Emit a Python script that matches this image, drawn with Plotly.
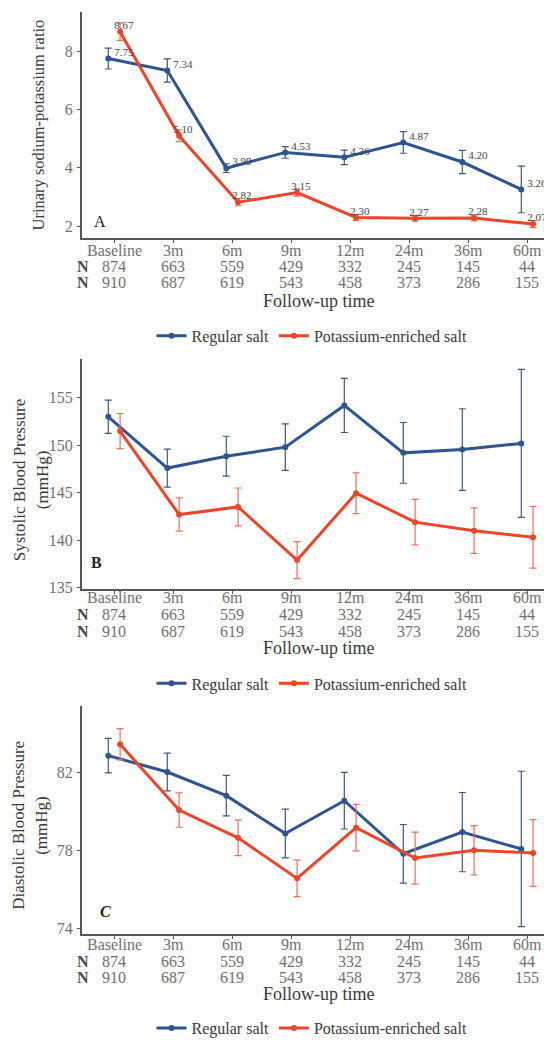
import plotly.graph_objects as go

# ---------------- data ----------------
timepoints = ["Baseline", "3m", "6m", "9m", "12m", "24m", "36m", "60m"]
n_regular = [874, 663, 559, 429, 332, 245, 145, 44]
n_potassium = [910, 687, 619, 543, 458, 373, 286, 155]
series_names = ["Regular salt", "Potassium-enriched salt"]

# Panel A: urinary sodium-potassium ratio
ratio_regular = [7.75, 7.34, 3.99, 4.53, 4.36, 4.87, 4.20, 3.26]
ratio_regular_err = [0.36, 0.40, 0.15, 0.20, 0.25, 0.37, 0.40, 0.80]
ratio_potassium = [8.67, 5.10, 2.82, 3.15, 2.30, 2.27, 2.28, 2.07]
ratio_potassium_err = [0.30, 0.20, 0.12, 0.12, 0.10, 0.10, 0.10, 0.12]
ratio_regular_lbl = ["7.75", "7.34", "3.99", "4.53", "4.36", "4.87", "4.20", "3.26"]
ratio_potassium_lbl = ["8.67", "5.10", "2.82", "3.15", "2.30", "2.27", "2.28", "2.07"]

# Panel B: systolic blood pressure
sbp_regular = [153.0, 147.6, 148.85, 149.8, 154.2, 149.2, 149.55, 150.2]
sbp_regular_err = [1.75, 2.0, 2.1, 2.45, 2.85, 3.2, 4.3, 7.8]
sbp_potassium = [151.5, 142.7, 143.5, 137.9, 144.95, 141.9, 141.0, 140.3]
sbp_potassium_err = [1.85, 1.75, 2.0, 1.95, 2.15, 2.4, 2.4, 3.25]

# Panel C: diastolic blood pressure
dbp_regular = [82.87, 82.03, 80.82, 78.88, 80.56, 77.84, 78.95, 78.09]
dbp_regular_err = [0.88, 0.97, 1.04, 1.25, 1.45, 1.5, 2.03, 3.98]
dbp_potassium = [83.45, 80.08, 78.66, 76.58, 79.18, 77.62, 78.02, 77.88]
dbp_potassium_err = [0.80, 0.88, 0.91, 0.94, 1.19, 1.33, 1.26, 1.71]

# ---------------- style ----------------
FONT = "Liberation Serif, Times New Roman, serif"
BLUE = "#2f5590"
BLUE_ERR = "#3c587e"
RED = "#e8472c"
RED_ERR = "#e8705c"
TICK_COL = "#707070"
AXIS_COL = "#555555"
TITLE_COL = "#3a3a3a"
W, H = 544, 1045
DODGE = 0.1

x_idx = list(range(len(timepoints)))
x_reg = [i - DODGE for i in x_idx]
x_pot = [i + DODGE for i in x_idx]


def py(px):
    """pixel from top -> paper y"""
    return 1 - px / H


panels = [
    dict(key="", yr=ratio_regular, ye=ratio_regular_err, pr=ratio_potassium, pe=ratio_potassium_err,
         top=11.7, bot=240.7, yrange=[1.58, 9.36], tickvals=[2, 4, 6, 8],
         title=["Urinary sodium-potassium ratio"], letter="A", letter_pos=(-0.24, 2.17),
         labels=True, legend="legend",
         rows=(253, 269, 285.5, 303.5, 339)),
    dict(key="2", yr=sbp_regular, ye=sbp_regular_err, pr=sbp_potassium, pe=sbp_potassium_err,
         top=362.7, bot=595, yrange=[134.82, 159.07], tickvals=[135, 140, 145, 150, 155],
         title=["Systolic Blood Pressure", "(mmHg)"], letter="<b>B</b>", letter_pos=(-0.3, 137.6),
         labels=False, legend="legend2",
         rows=(603.5, 620.5, 637.5, 654, 690)),
    dict(key="3", yr=dbp_regular, ye=dbp_regular_err, pr=dbp_potassium, pe=dbp_potassium_err,
         top=712.7, bot=943, yrange=[73.73, 85.42], tickvals=[74, 78, 82],
         title=["Diastolic Blood Pressure", "(mmHg)"], letter="<b><i>C</i></b>", letter_pos=(-0.14, 74.9),
         labels=False, legend="legend3",
         rows=(953.5, 970.5, 987, 1004, 1038)),
]

fig = go.Figure()
annotations = []
layout_extra = {}

x_domain = [81.7 / W, 1.0]
x_range = [-0.551, 7.285]
title_x = 319 / W
legend_x = 312 / W

for p in panels:
    k = p["key"]
    xa = "x" + k
    ya = "y" + k
    fig.add_trace(go.Scatter(
        x=x_reg, y=p["yr"], xaxis=xa, yaxis=ya, name=series_names[0], mode="lines+markers",
        line=dict(color=BLUE, width=3), marker=dict(color=BLUE, size=6),
        error_y=dict(type="data", array=p["ye"], color=BLUE_ERR, thickness=1.2, width=3.5),
        legend=p["legend"],
    ))
    fig.add_trace(go.Scatter(
        x=x_pot, y=p["pr"], xaxis=xa, yaxis=ya, name=series_names[1], mode="lines+markers",
        line=dict(color=RED, width=3), marker=dict(color=RED, size=6),
        error_y=dict(type="data", array=p["pe"], color=RED_ERR, thickness=1.2, width=3.5),
        legend=p["legend"],
    ))
    if p["labels"]:
        for vals, lbls in ((p["yr"], ratio_regular_lbl), (p["pr"], ratio_potassium_lbl)):
            fig.add_trace(go.Scatter(
                x=x_idx, y=vals, xaxis=xa, yaxis=ya, mode="text", text=lbls,
                textposition="top right", showlegend=False, hoverinfo="skip",
                textfont=dict(family=FONT, size=11, color="#444444"), cliponaxis=False,
            ))

    dom = [py(p["bot"]), py(p["top"])]
    layout_extra["xaxis" + k] = dict(
        domain=x_domain, anchor=ya, range=x_range,
        tickvals=x_idx, showticklabels=False, showgrid=False, zeroline=False,
        showline=True, linecolor=AXIS_COL, linewidth=1.5,
        ticks="outside", ticklen=3, tickcolor=AXIS_COL,
    )
    layout_extra["yaxis" + k] = dict(
        domain=dom, anchor=xa, range=p["yrange"], tickvals=p["tickvals"],
        showgrid=False, zeroline=False, showline=True, linecolor=AXIS_COL, linewidth=1.5,
        ticks="outside", ticklen=3, tickcolor=AXIS_COL, ticklabelstandoff=1,
        tickfont=dict(family=FONT, size=16, color=TICK_COL),
    )

    r_tick, r_n1, r_n2, r_title, r_leg = p["rows"]
    # category tick labels
    for i, lab in enumerate(timepoints):
        annotations.append(dict(text=lab, x=i, xref=xa, y=py(r_tick), yref="paper",
                                showarrow=False, xanchor="center", yanchor="middle",
                                font=dict(family=FONT, size=16, color=TICK_COL)))
    # N rows
    for row_y, counts in ((r_n1, n_regular), (r_n2, n_potassium)):
        annotations.append(dict(text="<b>N</b>", x=83 / W, xref="paper", y=py(row_y), yref="paper",
                                showarrow=False, xanchor="center", yanchor="middle",
                                font=dict(family=FONT, size=16, color="#4a4a4a")))
        for i, c in enumerate(counts):
            annotations.append(dict(text=str(c), x=i, xref=xa,
                                    y=py(row_y), yref="paper", showarrow=False,
                                    xanchor="center", yanchor="middle",
                                    font=dict(family=FONT, size=16, color=TICK_COL)))
    annotations.append(dict(text="Follow-up time", x=title_x, xref="paper", y=py(r_title), yref="paper",
                            showarrow=False, xanchor="center", yanchor="middle",
                            font=dict(family=FONT, size=18, color=TITLE_COL)))
    # y title
    ymid = py((p["top"] + p["bot"]) / 2 + (0 if len(p["title"]) == 1 else 6))
    if len(p["title"]) == 1:
        annotations.append(dict(text=p["title"][0], x=38.5 / W, xref="paper",
                                y=ymid, yref="paper", textangle=-90,
                                showarrow=False, xanchor="center", yanchor="middle",
                                font=dict(family=FONT, size=16.5, color=TITLE_COL)))
    else:
        for tx, xx in zip(p["title"], (19, 42)):
            annotations.append(dict(text=tx, x=xx / W, xref="paper",
                                    y=ymid, yref="paper", textangle=-90,
                                    showarrow=False, xanchor="center", yanchor="middle",
                                    font=dict(family=FONT, size=17, color=TITLE_COL)))
    # panel letter
    annotations.append(dict(text=p["letter"], x=p["letter_pos"][0], xref=xa, y=p["letter_pos"][1], yref=ya,
                            showarrow=False, xanchor="center", yanchor="middle",
                            font=dict(family=FONT, size=16, color="#222222")))
    layout_extra[p["legend"]] = dict(
        orientation="h", x=legend_x, xanchor="center", y=py(r_leg), yanchor="middle",
        font=dict(family=FONT, size=16, color=TITLE_COL), bgcolor="rgba(0,0,0,0)",
        itemwidth=30, tracegroupgap=0,
    )

fig.update_layout(
    width=W, height=H, margin=dict(l=0, r=0, t=0, b=0),
    paper_bgcolor="white", plot_bgcolor="white",
    font=dict(family=FONT), annotations=annotations, **layout_extra,
)

fig.write_html(
    "out.html",
    config={"displayModeBar": False},
    post_script="document.body.style.margin='0';document.body.style.overflow='hidden';",
)
